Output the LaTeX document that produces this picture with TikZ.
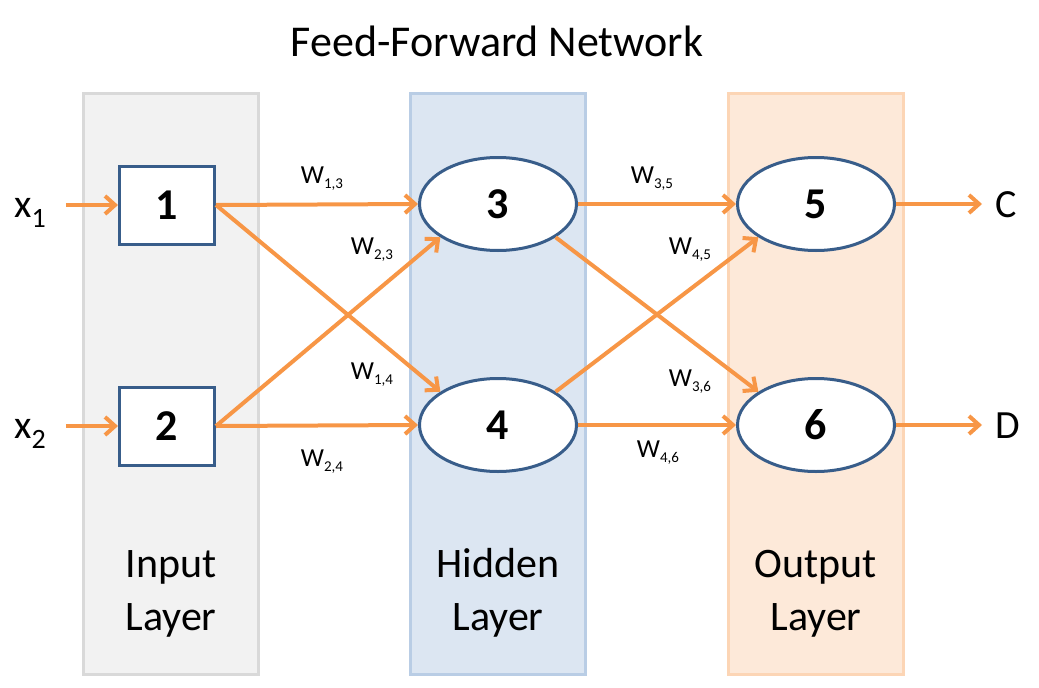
\documentclass[tikz,border=0pt]{standalone}
\usepackage{fontspec}
\setmainfont{Carlito}
\usetikzlibrary{arrows.meta,shapes.geometric}
\definecolor{arr}{HTML}{F79646}
\definecolor{nodeb}{HTML}{385D8A}
\definecolor{inF}{HTML}{F2F2F2}
\definecolor{inB}{HTML}{D9D9D9}
\definecolor{hidF}{HTML}{DCE6F2}
\definecolor{hidB}{HTML}{B9CDE5}
\definecolor{outF}{HTML}{FDE9D9}
\definecolor{outB}{HTML}{FCD5B5}
\newcommand{\wsub}[1]{W\raisebox{-5pt}{\fontsize{15}{15}\selectfont #1}}
\newcommand{\xsub}[2]{#1\raisebox{-10pt}{\fontsize{28}{28}\selectfont #2}}
\begin{document}
\begin{tikzpicture}[x=1pt,y=-1pt,
  panel/.style={line width=3pt, minimum width=175pt, minimum height=581pt, inner sep=0pt},
  layerlbl/.style={align=center, font=\fontsize{42}{53}\selectfont, anchor=base},
  sqnode/.style={draw=nodeb, fill=white, line width=3pt, minimum width=95pt, minimum height=78pt, inner sep=0pt, font=\fontsize{44}{44}\selectfont\bfseries},
  elnode/.style={ellipse, draw=nodeb, fill=white, line width=3pt, minimum width=157pt, minimum height=93pt, inner sep=0pt, font=\fontsize{44}{44}\selectfont\bfseries},
  conn/.style={draw=arr, line width=4pt, -{Straight Barb[length=10pt,width=18pt]}},
  wlbl/.style={font=\fontsize{26}{26}\selectfont, inner sep=0pt},
  iolbl/.style={font=\fontsize{40}{40}\selectfont, inner sep=0pt, anchor=base west}
]
\useasboundingbox (0,0) rectangle (1039,688);
% panels
\node[panel, draw=inB, fill=inF] (pin) at (171,384) {};
\node[panel, draw=hidB, fill=hidF] (phid) at (498,384) {};
\node[panel, draw=outB, fill=outF] (pout) at (816,384) {};
% title
\node[anchor=base, font=\fontsize{44}{44}\selectfont] (title) at (497,56) {Feed-Forward Network};
% layer labels
\node[layerlbl] (lin) at (171,630) {Input\\Layer};
\node[layerlbl] (lhid) at (498,630) {Hidden\\Layer};
\node[layerlbl] (lout) at (816,630) {Output\\Layer};
% nodes
\node[sqnode] (n1) at (167,205) {1};
\node[sqnode] (n2) at (167,426) {2};
\node[elnode] (n3) at (498,204) {3};
\node[elnode] (n4) at (498,425) {4};
\node[elnode] (n5) at (816,204) {5};
\node[elnode] (n6) at (816,425) {6};
% io labels
\node[iolbl] (x1) at (14,217) {\xsub{x}{1}};
\node[iolbl] (x2) at (14,438) {\xsub{x}{2}};
\node[iolbl] (C) at (995,217) {C};
\node[iolbl] (D) at (995,438) {D};
% connectors
\draw[conn, shorten <=20pt] (x1.east |- n1.west) -- (n1.west);
\draw[conn, shorten <=20pt] (x2.east |- n2.west) -- (n2.west);
\draw[conn] (n1.east) -- (n3.west);
\draw[conn] (n1.east) -- (n4.150);
\draw[conn] (n2.east) -- (n3.210);
\draw[conn] (n2.east) -- (n4.west);
\draw[conn] (n3.east) -- (n5.west);
\draw[conn] (n3.-30) -- (n6.150);
\draw[conn] (n4.30) -- (n5.210);
\draw[conn] (n4.east) -- (n6.west);
\draw[conn, shorten >=13pt] (n5.east) -- (n5.east -| C.west);
\draw[conn, shorten >=13pt] (n6.east) -- (n6.east -| D.west);
% weight labels
\node[wlbl] (w13) at (322,179) {\wsub{1,3}};
\node[wlbl] (w23) at (372,250) {\wsub{2,3}};
\node[wlbl] (w14) at (372,375) {\wsub{1,4}};
\node[wlbl] (w24) at (322,462) {\wsub{2,4}};
\node[wlbl] (w35) at (652,179) {\wsub{3,5}};
\node[wlbl] (w45) at (690,250) {\wsub{4,5}};
\node[wlbl] (w36) at (690,382) {\wsub{3,6}};
\node[wlbl] (w46) at (658,453) {\wsub{4,6}};
\end{tikzpicture}
\end{document}
